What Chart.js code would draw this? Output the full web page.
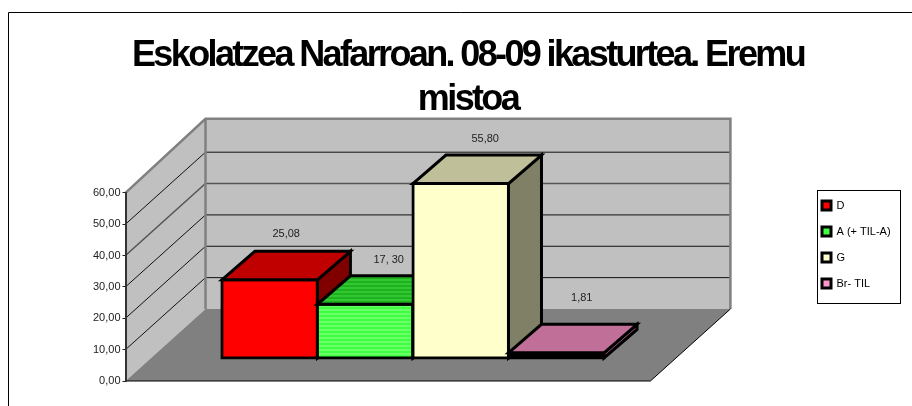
<!DOCTYPE html>
<html>
<head>
<meta charset="utf-8">
<title>Eskolatzea Nafarroan</title>
<script src="https://cdn.jsdelivr.net/npm/chart.js@4"></script>
<style>
  html, body { margin: 0; padding: 0; background: #fff; }
  #wrap { width: 912px; height: 406px; }
</style>
</head>
<body>
<div id="wrap"><canvas id="eskolatzea" width="912" height="406"></canvas></div>
<script>
const chartTitle = ['Eskolatzea Nafarroan. 08-09 ikasturtea. Eremu', 'mistoa'];
const categories = ['Eremu mistoa'];
const seriesNames = ['D', 'A (+ TIL-A)', 'G', 'Br- TIL'];
const seriesValues = [25.08, 17.30, 55.80, 1.81];
const valueLabels = ['25,08', '17, 30', '55,80', '1,81'];
const yTicks = ['0,00', '10,00', '20,00', '30,00', '40,00', '50,00', '60,00'];

const legendColors = ['#ff0000', '#40ff40', '#ffffcc', '#ff99cc'];
const frontColors = ['#ff0000', stripes('#40ff40', '#90ff90'), '#ffffcc', '#000000'];
const topColors = ['#c00000', stripes('#30c830', '#109a10'), '#bfbf99', '#c07098'];
const sideColors = ['#800000', '#118011', '#808066', '#a05c80'];

// the box depth and wall depth of the old excel 3d look
const wallDepth = { x: 80, y: -72 };
const barShift = { x: 25, y: -22.5 };
const barDepth = { x: 33, y: -28.5 };
const labelNudge = [{ x: 0, y: -1 }, { x: 7, y: 0 }, { x: 8, y: 0 }, { x: 9, y: -10 }];

// light horizontal bands on the green bar
function stripes(light, dark) {
	const c = document.createElement('canvas');
	c.width = 4;
	c.height = 4;
	const g = c.getContext('2d');
	g.fillStyle = light;
	g.fillRect(0, 0, 4, 4);
	g.fillStyle = dark;
	g.fillRect(0, 0, 4, 1);
	return g.createPattern(c, 'repeat');
}

function poly(ctx, pts, fill, stroke, width) {
	ctx.beginPath();
	pts.forEach(function (p, i) {
		if (i === 0) ctx.moveTo(p[0], p[1]);
		else ctx.lineTo(p[0], p[1]);
	});
	ctx.closePath();
	if (fill) {
		ctx.fillStyle = fill;
		ctx.fill();
	}
	if (stroke) {
		ctx.strokeStyle = stroke;
		ctx.lineWidth = width;
		ctx.lineJoin = 'miter';
		ctx.stroke();
	}
}

// walls, floor and grid, all hung on the y scale
const room = {
	id: 'room',
	beforeDraw(chart) {
		const ctx = chart.ctx;
		const a = chart.chartArea;
		const y = chart.scales.y;
		const dx = wallDepth.x;
		const dy = wallDepth.y;
		const y0 = y.getPixelForValue(0);
		const yTop = y.getPixelForValue(60);
		ctx.save();
		ctx.fillStyle = '#fff';
		ctx.fillRect(0, 0, chart.width, chart.height);

		// outer frame of the chart object, it runs off the picture
		ctx.strokeStyle = '#000';
		ctx.lineWidth = 1;
		ctx.beginPath();
		ctx.moveTo(8.5, 406);
		ctx.lineTo(8.5, 12.5);
		ctx.lineTo(912, 12.5);
		ctx.stroke();

		poly(ctx, [[a.left + dx, yTop + dy - 2], [a.right + dx, yTop + dy - 2], [a.right + dx, y0 + dy], [a.left + dx, y0 + dy]], '#c0c0c0');
		poly(ctx, [[a.left, yTop], [a.left + dx, yTop + dy - 2], [a.left + dx, y0 + dy], [a.left, y0]], '#c0c0c0');
		poly(ctx, [[a.left, y0], [a.right, y0], [a.right + dx, y0 + dy], [a.left + dx, y0 + dy]], '#808080');

		y.ticks.forEach(function (t) {
			if (t.value === 0 || t.value === 60) return;
			const py = y.getPixelForValue(t.value);
			ctx.strokeStyle = t.value === 40 ? '#555' : '#111';
			ctx.lineWidth = t.value === 40 ? 1.5 : 1;
			ctx.beginPath();
			ctx.moveTo(a.left, py);
			ctx.lineTo(a.left + dx, py + dy);
			ctx.lineTo(a.right + dx, py + dy);
			ctx.stroke();
		});

		// wall outline
		ctx.strokeStyle = '#808080';
		ctx.lineWidth = 2.5;
		ctx.beginPath();
		ctx.moveTo(a.left, yTop);
		ctx.lineTo(a.left + dx, yTop + dy - 2);
		ctx.lineTo(a.right + dx, yTop + dy - 2);
		ctx.lineTo(a.right + dx, y0 + dy);
		ctx.moveTo(a.left + dx, yTop + dy - 2);
		ctx.lineTo(a.left + dx, y0 + dy);
		ctx.stroke();

		// floor edges
		ctx.strokeStyle = '#000';
		ctx.lineWidth = 1;
		ctx.beginPath();
		ctx.moveTo(a.left, y0);
		ctx.lineTo(a.right, y0);
		ctx.lineTo(a.right + dx, y0 + dy);
		ctx.stroke();
		ctx.restore();
	},
	afterLayout(chart) {
		// title is centred on the frame and the legend floats right of the room
		const t = chart.titleBlock;
		t.left = 0;
		t.right = 936;
		const l = chart.legend;
		l.left = 807;
		l.right = 900;
		l.top = 185;
		l.bottom = 406;
		if (!t.wrapped) {
			const draw = t.draw;
			t.draw = function () {
				chart.ctx.save();
				chart.ctx.letterSpacing = '-2.63px';
				draw.call(t);
				chart.ctx.restore();
			};
			t.wrapped = true;
		}
	},
	// chart.js paints the last dataset first, here the bars must go left to right
	beforeDatasetDraw() {
		return false;
	},
	afterDatasetsDraw(chart) {
		const ctx = chart.ctx;
		const dx = barDepth.x;
		const dy = barDepth.y;
		ctx.save();
		ctx.translate(barShift.x, barShift.y);
		seriesNames.forEach(function (name, i) {
			const bar = chart.getDatasetMeta(i).data[0];
			const p = bar.getProps(['x', 'y', 'base', 'width'], true);
			const l = p.x - p.width / 2;
			const r = p.x + p.width / 2;
			bar.draw(ctx);
			poly(ctx, [[r, p.y], [r + dx, p.y + dy], [r + dx, p.base + dy], [r, p.base]], sideColors[i], '#000', 3);
			poly(ctx, [[l, p.y], [l + dx, p.y + dy], [r + dx, p.y + dy], [r, p.y]], topColors[i], '#000', 3);
		});
		seriesNames.forEach(function (name, i) {
			const p = chart.getDatasetMeta(i).data[0].getProps(['x', 'y'], true);
			const n = labelNudge[i];
			ctx.fillStyle = '#222';
			ctx.font = '11px "Liberation Sans"';
			ctx.textAlign = 'center';
			ctx.textBaseline = 'middle';
			ctx.fillText(valueLabels[i], p.x + dx / 2 + n.x, p.y + dy - 16 + n.y);
		});
		ctx.restore();

		// box round the legend
		ctx.save();
		ctx.strokeStyle = '#000';
		ctx.lineWidth = 1;
		ctx.strokeRect(817.5, 190.5, 83, 113);
		ctx.restore();
	}
};

const ctx = document.getElementById('eskolatzea').getContext('2d');
const datasets = seriesNames.map(function (name, i) {
	return {
		label: name,
		data: [seriesValues[i]],
		backgroundColor: frontColors[i],
		borderColor: '#000',
		borderWidth: 3,
		borderSkipped: false,
		inflateAmount: 1.5,
		barPercentage: 1,
		categoryPercentage: 0.728
	};
});

const myChart = new Chart(ctx, {
	type: 'bar',
	data: { labels: categories, datasets: datasets },
	options: {
		responsive: false,
		animation: false,
		layout: { padding: { left: 0, right: 168, top: 0, bottom: 25 } },
		plugins: {
			title: {
				display: true,
				text: chartTitle,
				color: '#000',
				font: { family: '"Liberation Sans"', size: 36, weight: 'bold', lineHeight: 1.22 },
				padding: { top: 34, bottom: 71 }
			},
			legend: {
				position: 'right',
				align: 'start',
				labels: {
					color: '#222',
					font: { family: '"Liberation Sans"', size: 11 },
					boxWidth: 9,
					boxHeight: 9,
					padding: 15,
					generateLabels: function () {
						return seriesNames.map(function (name, i) {
							return { text: name, fillStyle: legendColors[i], strokeStyle: '#000', lineWidth: 3, datasetIndex: i };
						});
					}
				}
			},
			tooltip: { enabled: false }
		},
		scales: {
			x: { display: false },
			y: {
				min: 0,
				max: 60,
				afterFit: function (s) { s.width = 125.5; },
				ticks: {
					stepSize: 10,
					color: '#222',
					font: { family: '"Liberation Sans"', size: 11 },
					padding: 2,
					callback: function (v) { return yTicks[v / 10]; }
				},
				grid: { drawOnChartArea: false, tickLength: 3, color: '#222' },
				border: { color: '#333', width: 2 }
			}
		}
	},
	plugins: [room]
});
</script>
</body>
</html>
